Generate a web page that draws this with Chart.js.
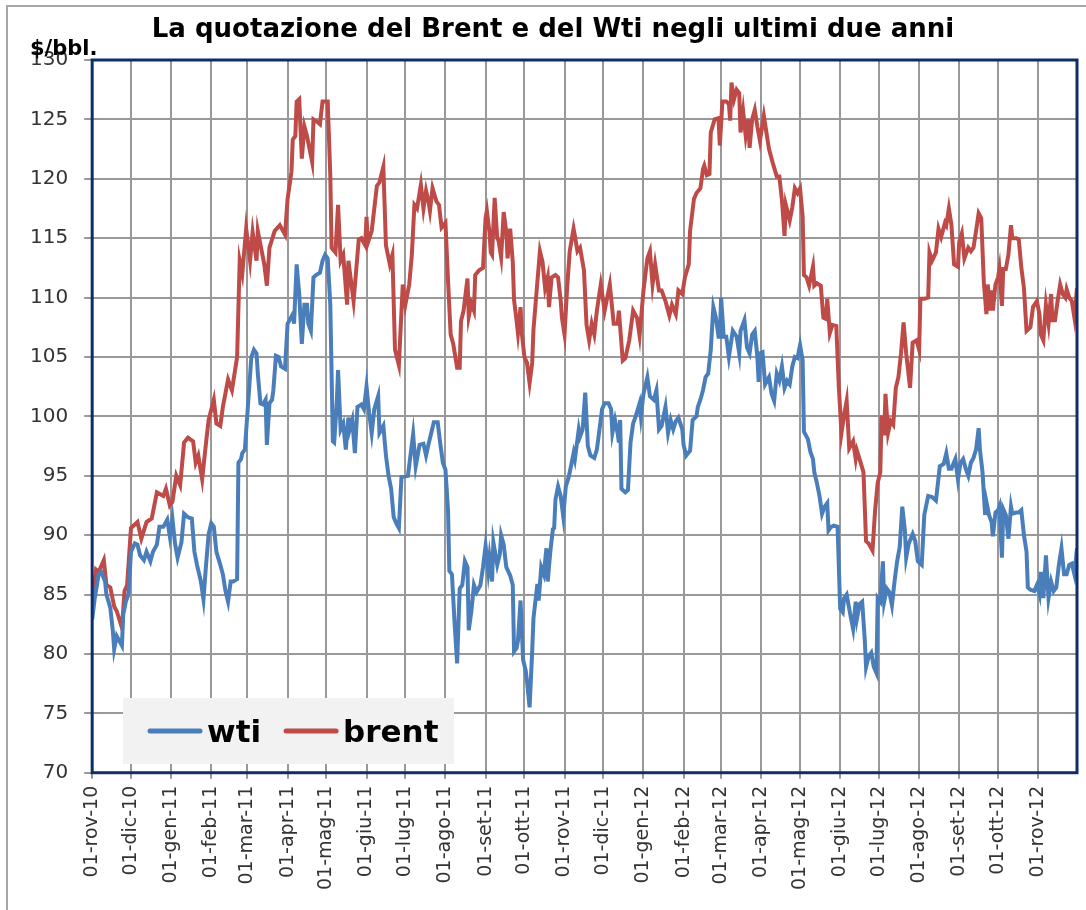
<!DOCTYPE html>
<html lang="it">
<head>
<meta charset="utf-8">
<title>Brent e Wti</title>
<style>
  html, body { margin: 0; padding: 0; background: #ffffff; }
  #grafico { display: block; }
</style>
<script src="https://cdn.jsdelivr.net/npm/chart.js@4.4.1/dist/chart.umd.min.js"></script>
</head>
<body>
<canvas id="grafico" width="1086" height="910"></canvas>
<script>
// etichette dei mesi sull'asse x (giorni contati dal primo novembre 2010)
const tickDays = [0, 30, 61, 92, 120, 151, 181, 212, 242, 273, 304, 334, 365,
  395, 426, 457, 486, 517, 547, 578, 608, 639, 670, 700, 731];
const tickLabels = ["01-rov-10", "01-dic-10", "01-gen-11", "01-feb-11", "01-mar-11",
  "01-apr-11", "01-mag-11", "01-giu-11", "01-lug-11", "01-ago-11", "01-set-11",
  "01-ott-11", "01-rov-11", "01-dic-11", "01-gen-12", "01-feb-12", "01-mar-12",
  "01-apr-12", "01-mag-12", "01-giu-12", "01-lug-12", "01-ago-12", "01-set-12",
  "01-ott-12", "01-rov-12"];

const brentX = [0,3,5,9,11,14,17,19,23,25,27,30,35,38,42,46,50,55,57,60,62,65,68,71,74,78,80,82,85,88,90,94,96,99,101,105,108,110,112,114,116,119,122,124,127,128,131,133,135,137,141,145,149,151,154,155,157,158,160,162,164,166,170,171,175,176,178,182,184,185,188,190,192,194,197,198,202,206,208,211,212,213,216,220,222,225,227,230,232,234,237,240,242,245,247,249,251,254,256,258,260,261,263,266,268,270,273,275,277,279,282,284,285,287,290,291,293,295,296,299,302,304,305,307,308,309,311,313,314,316,318,320,321,323,325,326,328,329,331,332,334,336,338,340,341,344,346,348,350,352,353,355,358,360,362,363,365,367,369,372,373,375,377,380,382,384,386,388,390,393,396,400,403,406,407,410,412,415,418,421,423,426,429,431,433,435,438,440,443,446,448,451,453,456,458,461,462,465,467,470,472,473,475,477,478,481,484,485,487,490,492,493,494,496,498,500,501,503,505,507,508,510,512,514,516,519,523,526,529,531,533,535,536,539,541,543,545,547,549,550,552,554,557,558,560,563,565,567,568,570,572,575,577,579,581,583,585,588,590,591,593,596,598,600,603,605,607,609,610,612,613,615,617,619,621,623,625,627,629,632,634,637,639,640,643,646,647,649,652,654,656,659,660,662,664,666,669,670,672,674,677,679,681,683,685,687,689,691,692,694,695,696,698,700,701,703,704,706,708,710,711,714,716,718,720,722,725,727,730,732,733,735,737,739,741,742,744,746,748,750,752,753,755,757,759,761];
const brentY = [84.2,87.1,86.9,87.9,85.8,85.6,84.0,83.6,82.2,85.3,85.8,90.6,91.1,89.7,91.1,91.4,93.6,93.3,93.9,92.5,92.8,95.0,94.2,97.8,98.2,97.9,96.1,96.7,94.7,97.8,99.7,101.4,99.4,99.2,100.8,103.1,102.2,103.6,105.0,113.1,112.0,115.8,113.1,115.5,113.1,115.6,113.9,112.8,111.0,114.2,115.6,116.1,115.3,118.3,120.6,123.3,123.6,126.5,126.7,121.7,124.4,123.6,121.4,125.0,124.7,124.6,126.5,126.5,120.3,114.2,113.8,117.8,113.1,113.6,109.4,113.1,109.7,114.9,115.0,114.4,116.8,114.6,115.6,119.4,119.7,121.0,114.4,112.8,113.6,105.6,104.3,111.1,109.4,111.1,113.6,117.8,117.5,119.5,117.5,119.0,118.0,117.3,119.2,118.1,117.8,115.9,116.3,111.4,106.9,106.1,104.1,104.1,108.0,108.9,111.6,108.4,109.5,108.9,111.9,112.3,112.5,116.7,117.3,115.5,113.8,113.6,118.4,115.0,114.8,113.4,117.2,115.5,113.3,115.8,113.0,109.8,108.0,107.0,109.2,107.0,105.0,104.5,102.8,104.5,107.3,111.3,113.9,113.0,110.8,111.7,109.2,111.7,111.9,111.7,109.8,108.3,106.9,110.8,113.9,115.8,115.2,113.9,114.2,112.3,107.7,106.4,107.8,106.9,108.9,111.1,108.9,111.1,107.8,107.8,108.9,104.7,104.9,106.4,108.9,108.3,106.8,110.6,113.3,113.9,111.1,112.8,110.6,110.6,109.7,108.5,109.4,108.6,110.6,110.3,111.7,112.8,115.6,118.3,118.8,119.2,120.8,121.1,120.3,120.4,123.9,125.0,125.1,122.8,126.5,126.5,126.3,124.9,128.1,126.7,127.5,127.2,123.9,125.7,123.6,125.0,122.6,125.0,125.8,124.4,123.2,125.3,122.5,121.3,120.2,120.2,118.2,115.2,117.8,116.5,117.6,119.2,118.8,119.2,116.8,111.9,111.7,111.0,112.6,111.0,111.2,111.0,108.3,108.2,109.9,107.0,107.7,107.6,102.4,98.6,100.1,101.3,97.3,97.9,96.4,97.1,96.4,95.3,89.5,89.3,88.7,92.1,94.4,95.3,100.1,98.4,101.9,98.6,99.6,99.3,102.4,103.3,105.3,107.9,105.3,102.4,106.2,106.4,105.6,109.9,109.9,110.0,113.8,113.1,113.8,115.8,115.1,116.3,116.1,117.5,116.1,112.8,112.6,114.7,115.4,113.3,114.2,113.9,114.2,115.6,117.1,116.7,111.3,108.6,111.1,108.9,110.6,108.9,111.1,111.7,112.4,109.3,112.4,112.4,113.6,116.1,115.0,115.0,114.9,112.5,110.8,107.2,107.5,109.2,109.7,108.6,106.9,106.4,109.4,107.8,110.3,108.1,108.1,109.7,111.1,110.3,110.0,110.7,110.0,109.7,108.3,110.8];

const wtiX = [0,2,5,7,10,11,14,16,17,19,21,23,24,26,28,30,33,35,37,40,42,45,47,50,52,55,58,60,62,64,66,69,71,74,77,79,81,84,86,88,90,92,94,96,99,101,103,105,107,109,112,113,115,116,118,121,123,125,127,128,130,132,134,135,137,139,140,142,144,146,149,151,153,155,156,158,160,162,164,166,167,169,171,173,176,178,180,182,184,186,187,189,190,192,194,196,198,199,201,203,205,208,210,212,214,216,218,221,222,225,227,229,231,233,235,237,239,244,248,250,253,256,258,260,262,264,267,269,271,273,275,276,278,280,282,284,286,288,290,291,293,295,297,300,302,304,306,307,309,310,313,315,316,318,320,323,325,326,328,329,331,333,335,336,338,340,341,344,345,347,349,351,352,354,356,357,358,360,362,364,366,368,370,372,373,376,377,379,381,383,385,388,390,392,394,396,399,401,402,404,406,407,408,409,412,414,416,418,420,423,424,426,429,431,434,436,438,440,443,445,447,449,451,453,456,457,459,462,464,467,468,470,472,474,476,478,480,482,484,485,486,488,490,492,495,498,500,501,504,506,508,510,512,514,515,516,518,520,523,525,527,529,531,533,535,537,539,541,543,545,547,549,550,553,555,557,558,560,562,564,566,568,569,571,573,576,578,580,581,583,586,588,590,591,593,595,597,598,600,602,604,606,607,609,611,612,614,616,618,620,622,624,626,628,629,631,634,636,638,641,643,646,649,652,655,658,660,662,664,667,669,671,673,675,677,679,681,683,685,686,688,690,691,693,695,696,698,700,701,703,704,706,708,710,711,714,716,718,720,722,723,725,728,730,732,733,735,737,739,741,743,745,747,749,751,753,755,757,759,761];
const wtiY = [82.9,84.7,86.7,86.9,86.1,85.0,83.9,81.9,80.4,81.5,81.1,80.7,83.3,84.4,85.0,88.6,89.3,89.2,88.3,87.9,88.6,87.8,88.6,89.2,90.7,90.7,91.3,89.9,91.4,89.3,88.1,89.4,91.8,91.5,91.4,88.6,87.5,86.1,84.6,87.5,90.1,91.0,90.7,88.6,87.5,86.7,85.3,84.4,86.1,86.1,86.3,96.1,96.4,96.9,97.2,101.9,105.0,105.6,105.3,103.6,101.1,101.0,101.4,97.6,101.1,101.4,102.2,105.1,105.0,104.2,104.0,107.8,108.2,108.6,107.8,112.8,110.3,106.1,109.4,109.4,107.8,107.2,111.7,111.9,112.1,113.1,113.6,113.3,109.4,97.9,97.8,101.1,103.9,98.9,99.4,97.2,99.9,98.9,99.7,96.9,100.8,101.0,100.6,102.5,100.3,98.6,100.6,101.7,98.6,99.2,96.7,95.0,93.9,91.5,91.0,90.6,94.9,95.0,98.5,95.8,97.6,97.7,96.7,97.7,98.6,99.5,99.5,97.7,96.1,95.5,92.0,87.0,86.7,82.7,79.2,85.5,85.8,87.8,87.3,82.0,83.6,85.8,85.2,85.8,87.3,89.1,87.0,88.1,86.1,89.4,87.5,88.4,90.0,89.2,87.3,86.6,85.8,80.2,80.5,81.1,84.5,79.5,78.6,77.7,75.5,80.2,83.0,85.9,84.5,87.3,86.7,88.9,86.1,88.6,90.5,90.6,93.0,94.1,93.3,91.6,94.1,94.8,95.8,96.9,96.4,98.9,98.3,98.9,102.0,97.5,96.7,96.5,97.2,98.9,100.6,101.1,101.1,100.6,98.6,99.7,98.6,97.8,99.7,93.9,93.6,93.8,97.8,99.4,100.0,101.1,100.0,101.9,103.3,101.7,101.4,102.2,98.9,99.2,100.8,98.6,99.7,98.9,99.6,99.9,98.9,97.6,96.7,97.1,99.7,100.0,100.8,101.4,102.2,103.3,103.6,105.6,109.2,108.3,106.7,106.7,110.0,106.7,106.7,105.0,107.2,106.7,105.3,107.2,108.1,105.8,105.3,106.9,107.2,105.0,102.9,105.3,105.4,102.7,103.3,101.9,101.3,103.6,103.0,104.2,102.4,103.0,102.7,104.2,105.0,104.9,106.0,104.7,98.7,98.1,97.0,96.4,95.3,94.4,93.3,91.8,92.4,92.7,90.4,90.7,90.8,90.7,83.8,83.5,84.7,85.0,83.2,82.1,84.4,83.0,84.2,84.4,81.2,78.9,79.8,80.1,78.9,78.4,84.7,84.4,87.8,84.4,85.5,85.2,84.1,86.1,87.8,89.0,92.4,90.4,88.1,89.3,90.1,89.5,87.8,87.5,91.7,93.3,93.2,92.9,95.8,96.0,96.9,95.6,95.6,96.4,94.7,96.1,96.4,95.6,95.0,96.1,96.5,97.2,99.0,97.2,95.3,91.7,92.8,91.7,91.1,89.9,91.9,92.1,92.4,88.1,92.2,91.7,89.7,92.4,91.8,91.9,91.9,92.1,90.0,88.6,85.6,85.4,85.3,85.8,85.0,86.9,84.7,88.3,84.7,86.1,85.3,85.6,87.5,88.9,86.7,86.7,87.5,87.6,86.7,88.9];

const FAMIGLIA = 'DejaVu Sans';

// bordo del grafico, titolo, unita' e legenda
const cornice = {
  id: 'cornice',
  afterDraw(chart) {
    const { left, top, right, bottom } = chart.chartArea;
    const c = chart.ctx;
    c.save();
    c.strokeStyle = '#0F2D6B';
    c.lineWidth = 3;
    c.strokeRect(left, top, right - left, bottom - top);

    // cornice esterna grigia (lati sinistro e superiore)
    c.fillStyle = '#A6A6A6';
    c.fillRect(6, 5, 2, chart.height);
    c.fillRect(6, 5, chart.width, 2);

    c.fillStyle = '#000';
    c.textAlign = 'center';
    c.font = 'bold 26px "' + FAMIGLIA + '"';
    c.fillText('La quotazione del Brent e del Wti negli ultimi due anni', 553, 37);
    c.textAlign = 'left';
    c.font = 'bold 21px "' + FAMIGLIA + '"';
    c.fillText('$/bbl.', 30, 55);

    c.fillStyle = '#F2F2F2';
    c.fillRect(123, 698, 331, 66);
    c.font = 'bold 31px "' + FAMIGLIA + '"';
    c.lineCap = 'round';
    c.lineWidth = 5;
    let x = 150;
    for (const ds of chart.data.datasets) {
      c.strokeStyle = ds.borderColor;
      c.beginPath();
      c.moveTo(x, 731);
      c.lineTo(x + 50, 731);
      c.stroke();
      c.fillStyle = '#000';
      c.fillText(ds.label, x + 57, 742);
      x += 57 + c.measureText(ds.label).width + 25;
    }
    c.restore();
  }
};

new Chart(document.getElementById('grafico'), {
  type: 'line',
  data: {
    datasets: [
      {
        label: 'wti',
        data: wtiX.map((d, i) => ({ x: d, y: wtiY[i] })),
        borderColor: '#4A7EBB',
        borderWidth: 4,
        pointRadius: 0
      },
      {
        label: 'brent',
        data: brentX.map((d, i) => ({ x: d, y: brentY[i] })),
        borderColor: '#BE4B48',
        borderWidth: 4,
        pointRadius: 0
      }
    ]
  },
  options: {
    responsive: false,
    animation: false,
    layout: { padding: { top: 60, right: 9, left: 14, bottom: 13 } },
    plugins: { legend: { display: false } },
    scales: {
      x: {
        type: 'linear',
        min: 0,
        max: 761,
        afterBuildTicks: s => { s.ticks = tickDays.map(v => ({ value: v })); },
        grid: { color: '#999999', lineWidth: 2, tickLength: 6 },
        ticks: {
          autoSkip: false,
          minRotation: 90,
          maxRotation: 90,
          padding: 7,
          color: '#333',
          font: { family: FAMIGLIA, size: 19 },
          callback: (v, i) => tickLabels[i]
        }
      },
      y: {
        min: 70,
        max: 130,
        grid: { color: '#999999', lineWidth: 2, tickLength: 8 },
        ticks: {
          stepSize: 5,
          padding: 16,
          color: '#333',
          font: { family: FAMIGLIA, size: 20 }
        }
      }
    }
  },
  plugins: [cornice]
});
</script>
</body>
</html>
